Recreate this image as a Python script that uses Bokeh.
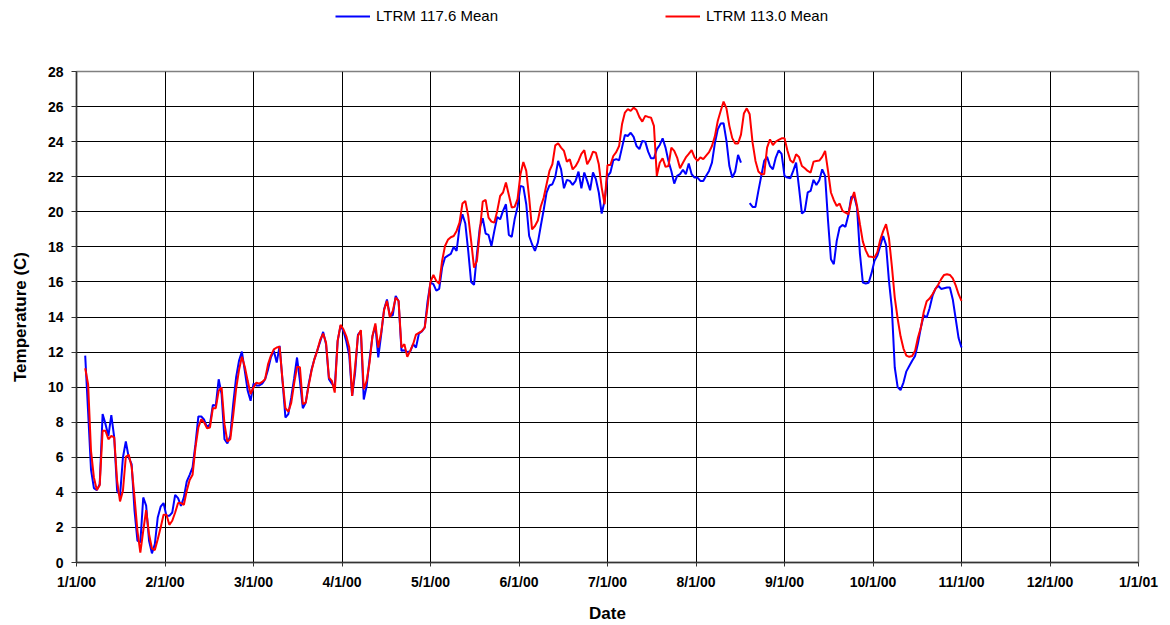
from bokeh.plotting import figure
from bokeh.layouts import column
from bokeh.models import Range1d, FixedTicker, CustomJSTickFormatter, Legend, LegendItem
from bokeh.embed import file_html
from bokeh.resources import INLINE
import numpy as np

nan = float("nan")

# x tick labels (equally spaced month ticks, 30.5 days apart)
tick_labels = ["1/1/00", "2/1/00", "3/1/00", "4/1/00", "5/1/00", "6/1/00", "7/1/00",
               "8/1/00", "9/1/00", "10/1/00", "11/1/00", "12/1/00", "1/1/01"]
y_ticks = [0, 2, 4, 6, 8, 10, 12, 14, 16, 18, 20, 22, 24, 26, 28]

# day of year for each daily reading (Jan 4 .. Nov 1)
days = list(range(3, 306))

# LTRM 117.6 Mean (blue)
temp_1176 = [
    11.8, 8.6, 5.3, 4.24, 4.13, 4.47, 8.46, 7.89, 7.22, 8.40,
    7.13, 4.09, 3.80, 5.99, 6.90, 5.99, 5.61, 2.95, 1.24, 1.14,
    3.71, 3.24, 1.24, 0.52, 1.05, 2.57, 3.18, 3.39, 2.66, 2.66,
    2.85, 3.86, 3.67, 3.23, 3.71, 4.62, 5.00, 5.42, 6.75, 8.33,
    8.33, 8.14, 7.70, 7.89, 8.99, 8.94, 10.45, 9.60, 7.03, 6.79,
    7.22, 9.03, 10.55, 11.50, 12.03, 10.93, 9.79, 9.22, 10.2, 10.1,
    10.1, 10.2, 10.45, 11.0, 11.7, 12.07, 11.4, 12.35, 10.36, 8.27,
    8.46, 9.4, 10.5, 11.69, 10.36, 8.8, 9.12, 10.17, 11.0, 11.6,
    12.1, 12.6, 13.15, 12.45, 10.45, 10.2, 10.0, 12.64, 13.5, 13.2,
    12.6, 11.8, 9.5, 10.8, 13.0, 13.2, 9.3, 10.07, 11.6, 12.9,
    13.5, 11.7, 13.0, 14.44, 15.0, 14.06, 14.1, 15.2, 14.9, 12.07,
    12.1, 12.0, 12.03, 12.45, 12.26, 13.05, 13.17, 13.4, 14.9, 15.96,
    15.87, 15.5, 15.6, 16.82, 17.39, 17.5, 17.6, 18.0, 17.77, 19.14,
    19.86, 19.33, 17.77, 16.0, 15.83, 17.58, 19.1, 19.63, 18.76, 18.68,
    18.05, 18.91, 19.7, 19.57, 20.05, 20.43, 18.68, 18.57, 19.57, 20.28,
    21.48, 21.42, 20.43, 18.62, 18.15, 17.77, 18.24, 19.19, 20.1, 21.1,
    21.5, 21.57, 21.99, 22.9, 22.42, 21.34, 21.82, 21.76, 21.53, 21.76,
    22.29, 21.34, 22.24, 21.76, 21.23, 22.24, 21.86, 21.1, 19.9, 20.62,
    22.04, 22.24, 22.94, 23.0, 22.94, 23.66, 24.38, 24.32, 24.51, 24.27,
    23.75, 23.57, 24.04, 24.0, 23.43, 23.05, 23.05, 23.57, 23.81, 24.19,
    23.66, 22.9, 22.33, 21.61, 22.05, 22.15, 22.4, 22.14, 22.75, 22.14,
    21.95, 21.95, 21.76, 21.76, 22.05, 22.33, 22.8, 23.9, 24.7, 25.03,
    25.05, 24.04, 22.61, 21.95, 22.3, 23.24, 22.8, nan, nan, 20.49,
    20.28, 20.28, 21.19, 22.05, 22.9, 23.13, 22.61, 22.42, 23.09, 23.5,
    23.3, 22.05, 21.95, 21.91, 22.33, 22.8, 21.38, 19.9, 20.05, 21.1,
    21.19, 21.82, 21.53, 21.8, 22.42, 22.05, 19.5, 17.3, 17.01, 18.34,
    19.1, 19.25, 19.14, 19.8, 20.85, 20.9, 20.24, 17.6, 15.96, 15.91,
    15.95, 16.5, 17.2, 17.5, 18.05, 18.62, 18.11, 16.06, 14.5, 11.12,
    10.0, 9.83, 10.26, 10.9, 11.2, 11.5, 11.78, 12.5, 13.4, 14.1,
    13.97, 14.5, 15.2, 15.6, 15.78, 15.6, 15.64, 15.68, 15.68, 15.0,
    13.9, 12.8, 12.26,
]

# LTRM 113.0 Mean (red)
temp_1130 = [
    11.08, 10.17, 6.37, 4.85, 4.13, 4.41, 7.51, 7.51, 7.03, 7.22,
    7.13, 4.66, 3.48, 4.09, 6.03, 6.14, 5.46, 3.71, 1.81, 0.57,
    1.81, 2.99, 1.62, 0.80, 0.71, 1.33, 2.0, 2.72, 2.72, 2.15,
    2.38, 2.85, 3.39, 3.39, 3.29, 4.09, 4.70, 5.0, 6.56, 7.70,
    8.17, 7.98, 7.66, 7.70, 8.80, 8.80, 9.79, 9.98, 7.89, 6.90,
    7.03, 8.37, 9.89, 10.97, 11.73, 11.16, 10.36, 9.6, 9.98, 10.26,
    10.2, 10.3, 10.45, 11.3, 11.8, 12.15, 12.26, 12.3, 10.4, 8.8,
    8.6, 9.1, 10.2, 11.16, 11.13, 9.03, 9.12, 10.07, 10.93, 11.6,
    12.1, 12.7, 13.05, 12.54, 10.55, 10.36, 9.69, 12.64, 13.55, 13.3,
    12.9, 12.26, 9.5, 11.13, 12.92, 13.25, 9.88, 10.36, 11.4, 12.92,
    13.63, 12.26, 13.11, 14.39, 14.92, 14.0, 14.35, 15.1, 14.92, 12.26,
    12.45, 11.73, 12.07, 12.45, 13.0, 13.1, 13.2, 13.4, 14.6, 16.0,
    16.4, 16.06, 15.9, 17.2, 18.05, 18.4, 18.55, 18.62, 18.91, 19.38,
    20.47, 20.62, 19.77, 18.34, 16.82, 17.2, 18.91, 20.58, 20.68, 19.67,
    19.44, 19.38, 20.05, 20.9, 21.1, 21.67, 20.96, 20.24, 20.28, 20.72,
    22.14, 22.84, 22.33, 20.81, 19.0, 19.19, 19.5, 20.3, 20.8, 21.57,
    22.33, 22.71, 23.79, 23.91, 23.66, 23.47, 22.86, 22.99, 22.42, 22.6,
    22.9, 23.3, 23.51, 22.71, 22.99, 23.43, 23.37, 22.71, 21.38, 20.43,
    22.67, 22.67, 23.18, 23.4, 23.75, 24.99, 25.66, 25.85, 25.75, 25.94,
    25.8, 25.4, 25.14, 25.47, 25.41, 25.37, 24.9, 22.05, 22.8, 23.05,
    22.56, 22.61, 23.66, 23.47, 23.09, 22.48, 22.8, 23.1, 23.3, 23.51,
    23.1, 22.9, 23.1, 23.0, 23.2, 23.4, 23.75, 24.3, 25.18, 25.75,
    26.28, 25.9, 24.9, 24.2, 23.9, 23.9, 24.4, 25.6, 25.9, 25.56,
    23.94, 22.9, 22.3, 22.14, 22.14, 23.66, 24.13, 23.81, 24.0, 24.1,
    24.19, 24.2, 23.5, 22.94, 22.8, 23.28, 23.13, 22.61, 22.48, 22.33,
    22.24, 22.86, 22.9, 22.92, 23.13, 23.47, 22.33, 21.1, 20.66, 20.33,
    20.47, 20.05, 19.95, 19.86, 20.62, 21.13, 20.33, 19.29, 18.3, 17.8,
    17.45, 17.43, 17.39, 17.7, 18.4, 18.9, 19.29, 18.5, 16.9, 15.11,
    13.9, 12.9, 12.2, 11.8, 11.73, 11.78, 12.07, 12.83, 13.4, 14.3,
    14.9, 15.05, 15.3, 15.6, 15.85, 16.16, 16.4, 16.44, 16.4, 16.2,
    15.8, 15.3, 14.92,
]

series_names = ["LTRM 117.6 Mean", "LTRM 113.0 Mean"]
series_colors = ["#0000FF", "#FF0000"]

FONT = "Liberation Sans"
LEG_H = 40

# ---- legend strip (top); legend-only renderers carry no visible data ----
lf = figure(width=1170, height=LEG_H, x_range=Range1d(0, 1), y_range=Range1d(0, 1),
            x_axis_location=None, y_axis_location=None,
            output_backend="svg", toolbar_location=None, title=None,
            min_border_left=0, min_border_right=0, min_border_top=0, min_border_bottom=0)
lf.grid.visible = False
lf.outline_line_color = None
lf.background_fill_color = "white"
lf.border_fill_color = "white"
leg_renderers = [lf.line([nan, nan], [nan, nan], line_color=c, line_width=2) for c in series_colors]
legend = Legend(items=[LegendItem(label=n, renderers=[r]) for n, r in zip(series_names, leg_renderers)],
                location=(259, LEG_H - 24), orientation="horizontal", padding=0, margin=0,
                spacing=167, border_line_color=None, background_fill_alpha=0,
                glyph_width=35, glyph_height=16, label_height=16, label_standoff=6,
                label_text_font=FONT, label_text_font_size="15px", label_text_color="black")
lf.add_layout(legend, "center")

# ---- main chart ----
p = figure(width=1170, height=625 - LEG_H, x_range=Range1d(0, 366), y_range=Range1d(0, 28),
           output_backend="svg", toolbar_location=None, title=None,
           min_border_left=76, min_border_right=32, min_border_top=71 - LEG_H, min_border_bottom=63)

p.background_fill_color = "white"
p.border_fill_color = "white"
p.outline_line_color = "#808080"
p.outline_line_width = 1.5

p.xaxis.ticker = FixedTicker(ticks=[i * 30.5 for i in range(len(tick_labels))])
p.xaxis.formatter = CustomJSTickFormatter(args=dict(labels=tick_labels),
                                          code="return labels[Math.round(tick / 30.5)];")
p.yaxis.ticker = FixedTicker(ticks=y_ticks)

for ax in (p.xaxis[0], p.yaxis[0]):
    ax.axis_line_color = "#333333"
    ax.axis_line_width = 1.5
    ax.major_tick_line_color = "#333333"
    ax.major_tick_in = 0
    ax.minor_tick_line_color = None
    ax.major_label_text_font = FONT
    ax.major_label_text_font_style = "bold"
    ax.major_label_text_font_size = "14px"
    ax.major_label_text_color = "black"
    ax.axis_label_text_font = FONT
    ax.axis_label_text_font_style = "bold"
    ax.axis_label_text_font_size = "17px"
    ax.axis_label_text_color = "black"

p.yaxis.major_tick_out = 5
p.yaxis.major_label_standoff = 8
p.yaxis.axis_label = "Temperature (C)"
p.yaxis.axis_label_standoff = 15

p.xaxis.major_tick_out = 4
p.xaxis.major_label_standoff = 7
p.xaxis.axis_label = "Date"
p.xaxis.axis_label_standoff = 11

for g in (p.xgrid[0], p.ygrid[0]):
    g.grid_line_color = "black"
    g.grid_line_width = 1
    g.grid_line_alpha = 1.0

p.line(days, np.array(temp_1176, dtype=float), line_color=series_colors[0], line_width=2)
p.line(days, np.array(temp_1130, dtype=float), line_color=series_colors[1], line_width=2)

layout = column(lf, p, spacing=0)
open("out.html", "w").write(file_html(layout, INLINE))
